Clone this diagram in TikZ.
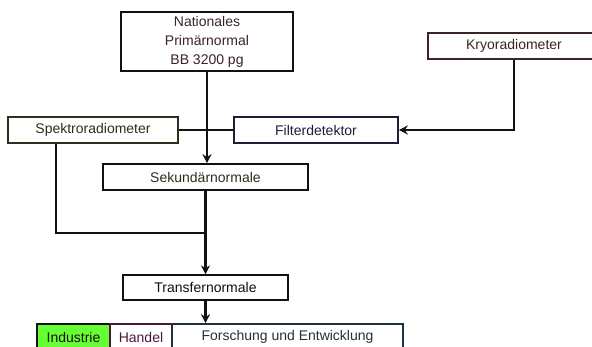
\documentclass[tikz,border=0pt]{standalone}
\usepackage{fontspec}
\setmainfont{Liberation Sans}
\usetikzlibrary{positioning, arrows.meta}
\definecolor{normBlack}{HTML}{111111}
\definecolor{normBrown}{HTML}{3A2424}
\definecolor{normOlive}{HTML}{2E2E1E}
\definecolor{normNavy}{HTML}{1E1E3C}
\definecolor{normGreen}{HTML}{66FF33}
\definecolor{normPlum}{HTML}{4A1838}
\definecolor{normSlate}{HTML}{22323C}

\tikzset{
  normbox/.style={draw=normBlack, line width=1.6pt, fill=white, inner sep=0pt,
    minimum height=26pt, align=center, text=normBlack},
  mainline/.style={normBlack, line width=2.4pt},
  sideline/.style={normBlack, line width=1.2pt},
  tip/.style={-{Stealth[length=9pt, width=9pt]}}
}

\begin{document}
\begin{tikzpicture}[x=1pt, y=-1pt, font=\fontsize{14}{19}\selectfont]
    \useasboundingbox (0,0) rectangle (592,347);
    \clip (0,0) rectangle (592,347);
    % Normale
    \node[normbox, minimum width=172pt, minimum height=59pt, text=normBrown] (natprim) at (207,41.5) {Nationales\\Primärnormal\\BB 3200 pg};
    \node[normbox, minimum width=172pt, draw=normBrown, text=normBrown] (kryo) at (514,46) {Kryoradiometer};
    \node[normbox, minimum width=170pt, draw=normOlive, text=normOlive] (spektro) at (93,130) {Spektroradiometer};
    \node[normbox, minimum width=164pt, draw=normNavy, text=normNavy] (filter) at (316,130) {Filterdetektor};
    \node[normbox, minimum width=205pt, text=normOlive] (sekundaer) at (205.5,177) {Sekundärnormale};
    \node[normbox, minimum width=165pt, minimum height=25pt, line width=1.2pt] (transfer) at (205.5,287.5) {Transfernormale};
    % Anwender
    \node[normbox, minimum width=73pt, fill=normGreen] (industrie) at (73.5,337) {Industrie};
    \node[normbox, minimum width=62pt, draw=normPlum, text=normPlum] (handel) at (141,337) {Handel};
    \node[normbox, minimum width=231pt, draw=normSlate, text=normSlate] (forschung) at (287.5,337) {Forschung und Entwicklung};
    % Verbindungen
    \draw[mainline] (spektro.east) -- (filter.west);
    \draw[mainline, tip] (natprim.south) -- (natprim.south |- sekundaer.north);
    \draw[mainline, tip] (kryo.south) |- (filter.east);
    \coordinate (merge) at (56,233);
    \draw[sideline] (merge |- spektro.south) -- (merge) -- (merge -| sekundaer.south);
    \draw[mainline, tip] (sekundaer.south) -- (transfer.north);
    \draw[mainline, tip] (transfer.south) -- (transfer.south |- forschung.north);
  \end{tikzpicture}
\end{document}
